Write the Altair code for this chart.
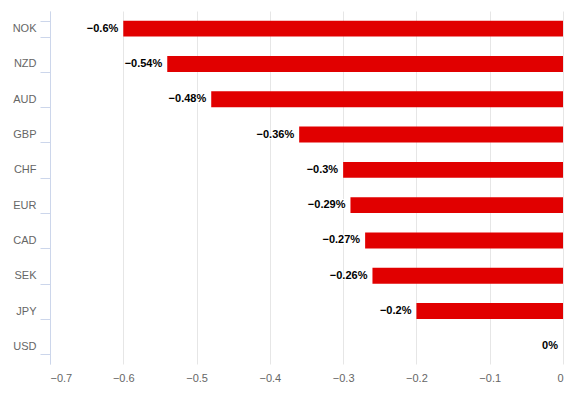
import altair as alt
import pandas as pd

currencies = ["NOK", "NZD", "AUD", "GBP", "CHF", "EUR", "CAD", "SEK", "JPY", "USD"]
changes = [-0.6, -0.54, -0.48, -0.36, -0.3, -0.29, -0.27, -0.26, -0.2, 0.0]
x_ticks = [-0.7, -0.6, -0.5, -0.4, -0.3, -0.2, -0.1, 0]

labels = [(f"{v:g}%" if v != 0 else "0%").replace("-", "\u2212") for v in changes]
df = pd.DataFrame({"cur": currencies, "chg": changes, "lbl": labels})

FONT = "Liberation Sans"

x_enc = alt.X("chg:Q", scale=alt.Scale(domain=[-0.7, 0], nice=False, zero=False),
              axis=alt.Axis(values=x_ticks, title=None, domain=False, ticks=False,
                            grid=True, gridColor="#e6e6e6", gridWidth=1,
                            labelColor="#666666", labelFontSize=11, labelFont=FONT,
                            labelPadding=8, format="~g"))
y_enc = alt.Y("cur:N", sort=currencies,
              scale=alt.Scale(paddingInner=0.55, paddingOuter=0.275),
              axis=alt.Axis(title=None, domainColor="#ccd6eb", tickColor="#ccd6eb",
                            tickBand="extent", tickSize=10, labelPadding=4,
                            labelColor="#666666", labelFontSize=11, labelFont=FONT))

base = alt.Chart(df)
bars = base.mark_bar(color="#e10000").encode(x=x_enc, y=y_enc, x2=alt.value(513))

outline = base.mark_text(align="right", dx=-5, fontSize=11, font=FONT, fontWeight="bold",
                         stroke="white", strokeWidth=2, fill="white").encode(
    x="chg:Q", y=alt.Y("cur:N", sort=currencies), text="lbl:N")
text = base.mark_text(align="right", dx=-5, fontSize=11, font=FONT, fontWeight="bold",
                      color="#000000").encode(
    x="chg:Q", y=alt.Y("cur:N", sort=currencies), text="lbl:N")

chart = alt.layer(bars, outline, text).properties(
    width=513, height=353,
    background="white",
    autosize=alt.AutoSizeParams(type="none"),
    padding={"left": 42, "top": 3, "right": 5, "bottom": 30},
).configure_view(strokeWidth=0, stroke="transparent")

chart.save("out.html", embed_options={"renderer": "svg", "actions": False})
